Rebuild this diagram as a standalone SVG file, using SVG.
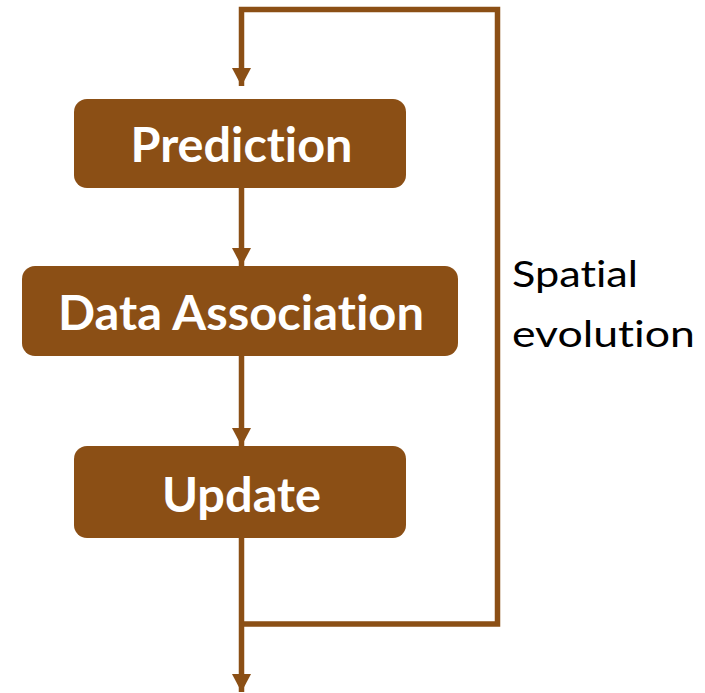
<svg xmlns="http://www.w3.org/2000/svg" width="705" height="693" viewBox="0 0 705 693">
  <defs>
    <style>
      text { font-variant-ligatures: none; font-feature-settings: "liga" 0, "dlig" 0; }
      .box { fill: #8B4F15; }
      .box-label { font-family: Lato, "Open Sans", "Liberation Sans", sans-serif; font-weight: 700; font-size: 47px; fill: #FFFFFF; text-anchor: middle; }
      .note { font-family: Lato, "Open Sans", "Liberation Sans", sans-serif; font-weight: 400; font-size: 36px; fill: #000000; }
      .wire { fill: none; stroke: #8B4F15; stroke-width: 5.5; stroke-linejoin: miter; stroke-linecap: butt; }
      .head { fill: #8B4F15; }
    </style>
    <marker id="arrow" viewBox="0 0 18 19" refX="18" refY="9.5" markerWidth="18" markerHeight="19" markerUnits="userSpaceOnUse" orient="auto">
      <path class="head" d="M0,0 L18,9.5 L0,19 Z"/>
    </marker>
  </defs>

  <!-- connectors -->
  <g id="connectors">
    <!-- feedback loop: from below Update, around the right, back into Prediction -->
    <polyline class="wire" points="241.5,624 497.5,624 497.5,9.5 241.5,9.5 241.5,86" marker-end="url(#arrow)"/>
    <line class="wire" x1="241.5" y1="188" x2="241.5" y2="266" marker-end="url(#arrow)"/>
    <line class="wire" x1="241.5" y1="356" x2="241.5" y2="446" marker-end="url(#arrow)"/>
    <line class="wire" x1="241.5" y1="538" x2="241.5" y2="692" marker-end="url(#arrow)"/>
  </g>

  <g id="prediction">
    <rect class="box" x="74" y="99" width="332" height="89" rx="13" ry="13"/>
    <text class="box-label" x="241.5" y="162" textLength="222" lengthAdjust="spacingAndGlyphs">Prediction</text>
  </g>

  <g id="data-association">
    <rect class="box" x="22" y="266" width="436" height="90" rx="13" ry="13"/>
    <text class="box-label" x="241" y="330" textLength="366" lengthAdjust="spacingAndGlyphs">Data Association</text>
  </g>

  <g id="update">
    <rect class="box" x="74" y="446" width="332" height="92" rx="13" ry="13"/>
    <text class="box-label" x="241.5" y="512" textLength="159" lengthAdjust="spacingAndGlyphs">Update</text>
  </g>

  <g id="loop-label">
    <text class="note" x="512" y="287" textLength="126" lengthAdjust="spacingAndGlyphs">Spatial</text>
    <text class="note" x="512" y="347" textLength="183" lengthAdjust="spacingAndGlyphs">evolution</text>
  </g>
</svg>
